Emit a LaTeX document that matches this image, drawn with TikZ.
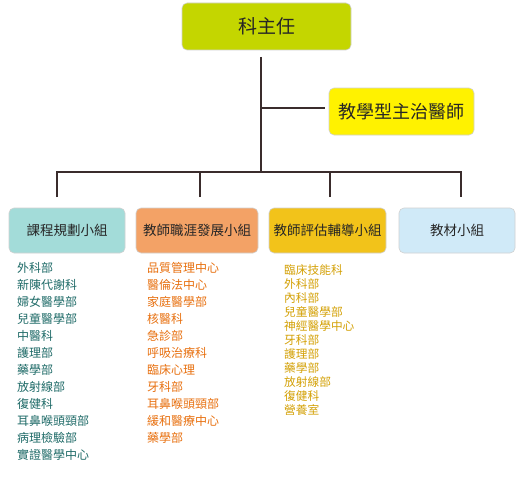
\documentclass[tikz,border=0pt]{standalone}
\usepackage{fontspec}
\setmainfont{Noto Sans CJK TC}
\definecolor{chiefc}{HTML}{C4D600}
\definecolor{teachc}{HTML}{FFF200}
\definecolor{g1c}{HTML}{A3DCD9}
\definecolor{g2c}{HTML}{F3A266}
\definecolor{g3c}{HTML}{F2C31A}
\definecolor{g4c}{HTML}{D0EAF8}
\definecolor{t1c}{HTML}{1F6B68}
\definecolor{t2c}{HTML}{E8700F}
\definecolor{t3c}{HTML}{D4A106}
\definecolor{linec}{HTML}{3A2C2C}
\begin{document}
\begin{tikzpicture}[x=1pt,y=-1pt,
  box/.style={draw=black!18, line width=0.6pt, rounded corners=5pt, inner sep=0pt, text=black!85},
  conn/.style={draw=linec, line width=2pt},
  item/.style={anchor=base west, inner sep=0pt, font=\fontsize{12}{12}\selectfont}]
\useasboundingbox[fill=white] (0,0) rectangle (530,503);
% top boxes
\node[box, fill=chiefc, minimum width=169, minimum height=47, font=\fontsize{19}{19}\selectfont] (chief) at (266.5,26.5) {科主任};
\node[box, fill=teachc, minimum width=145, minimum height=47, font=\fontsize{18}{18}\selectfont] (teach) at (401.5,111.5) {教學型主治醫師};
% group boxes
\begin{scope}[every node/.style={box, minimum width=116, minimum height=45, font=\fontsize{13.5}{13.5}\selectfont}]
\node[fill=g1c] (g1) at (67,230.5) {課程規劃小組};
\node[fill=g2c, minimum width=122] (g2) at (197,230.5) {教師職涯發展小組};
\node[fill=g3c, minimum width=117] (g3) at (327.5,230.5) {教師評估輔導小組};
\node[fill=g4c] (g4) at (457,230.5) {教材小組};
\end{scope}
% connector points
\coordinate (trunkTop) at (261,57);
\coordinate (trunkMid) at (261,108);
\coordinate (trunkBot) at (261,172);
\coordinate (teachIn) at (325,108);
\coordinate (d1) at (57,197);
\coordinate (d2) at (200,197);
\coordinate (d3) at (330,197);
\coordinate (d4) at (461,197);
\draw[conn] (trunkTop) -- (trunkBot);
\draw[conn] (trunkMid) -- (teachIn);
\draw[conn] (d1) -- (d1 |- trunkBot) -- (d4 |- trunkBot) -- (d4);
\draw[conn] (d2) -- (d2 |- trunkBot);
\draw[conn] (d3) -- (d3 |- trunkBot);
% lists
\foreach \t [count=\i] in {外科部,新陳代謝科,婦女醫學部,兒童醫學部,中醫科,護理部,藥學部,放射線部,復健科,耳鼻喉頭頸部,病理檢驗部,實證醫學中心}
  \node[item, text=t1c] (a\i) at (17,272.6+17*\i-17) {\t};
\foreach \t [count=\i] in {品質管理中心,醫倫法中心,家庭醫學部,核醫科,急診部,呼吸治療科,臨床心理,牙科部,耳鼻喉頭頸部,緩和醫療中心,藥學部}
  \node[item, text=t2c] (b\i) at (147,272.6+17*\i-17) {\t};
\foreach \t [count=\i] in {臨床技能科,外科部,內科部,兒童醫學部,神經醫學中心,牙科部,護理部,藥學部,放射線部,復健科,營養室}
  \node[item, text=t3c, font=\fontsize{11.7}{11.7}\selectfont] (c\i) at (284,274.5+14*\i-14) {\t};
\end{tikzpicture}
\end{document}
